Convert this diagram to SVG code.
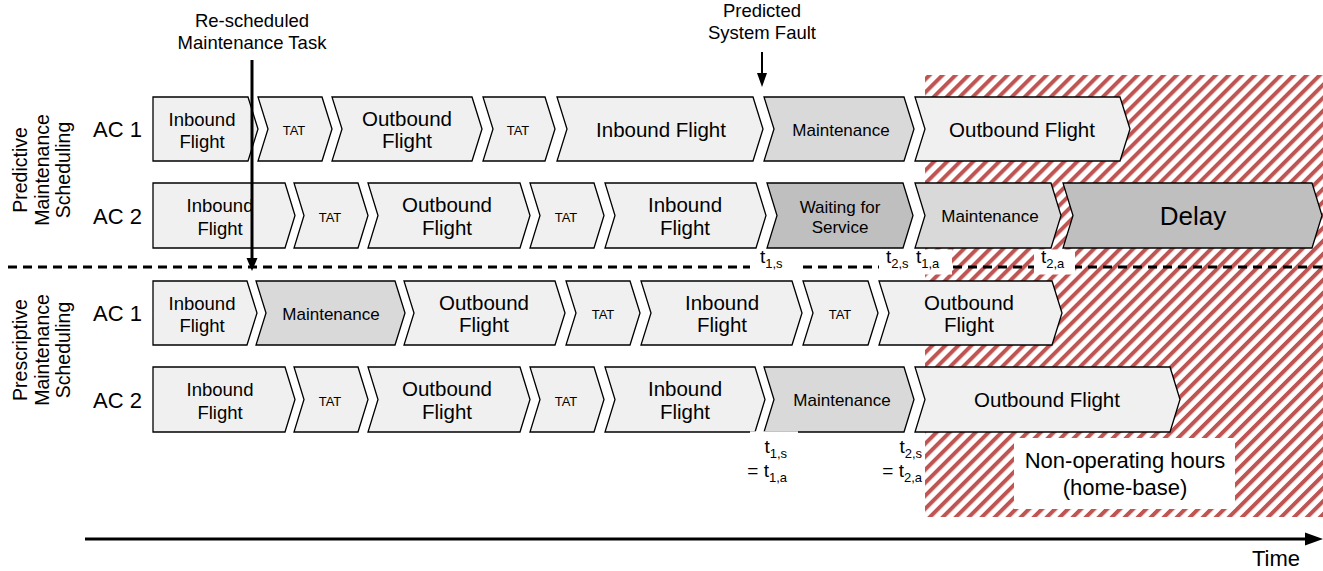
<svg xmlns="http://www.w3.org/2000/svg" width="1323" height="571" viewBox="0 0 1323 571">
<style>
text{font-family:"Liberation Sans",Arial,Helvetica,sans-serif;fill:#000}
.c{text-anchor:middle}
.e{text-anchor:end}
.box{stroke:#000;stroke-width:1.3;stroke-linejoin:miter}
.l{fill:#f0f0f0}
.m{fill:#d9d9d9}
.d{fill:#bfbfbf}
.f18{font-size:18.5px}
.f20{font-size:20.5px}
.tat{font-size:13px}
.mt{font-size:17px}
.big{font-size:26px}
.lab{font-size:18.5px}
.ac{font-size:22px}
.side{font-size:19.5px}
.t{font-size:19px}
.sub{font-size:13px}
.np{font-size:22px}
.wb{fill:#fff}
</style>
<defs>
<pattern id="hatch" patternUnits="userSpaceOnUse" width="9.2" height="9.2" patternTransform="rotate(45)">
<rect x="0" y="0" width="9.2" height="9.2" fill="#fff"/>
<rect x="0" y="0" width="4" height="9.2" fill="#bf5552"/>
</pattern>
</defs>

<g id="non-operating-area">
<rect x="925" y="75" width="398" height="442" fill="url(#hatch)"/>
</g>

<g id="divider">
<line x1="8" y1="267" x2="1323" y2="267" stroke="#000" stroke-width="3" stroke-dasharray="9 6"/>
</g>

<g id="labels-left">
<text class="side c" transform="translate(27,170) rotate(-90)">Predictive</text>
<text class="side c" transform="translate(49,170) rotate(-90)">Maintenance</text>
<text class="side c" transform="translate(70,170) rotate(-90)">Scheduling</text>
<text class="side c" transform="translate(27,350) rotate(-90)">Prescriptive</text>
<text class="side c" transform="translate(49,350) rotate(-90)">Maintenance</text>
<text class="side c" transform="translate(70,350) rotate(-90)">Scheduling</text>
<text class="ac" x="93" y="137">AC 1</text>
<text class="ac" x="93" y="223.5">AC 2</text>
<text class="ac" x="93" y="321">AC 1</text>
<text class="ac" x="93" y="407.5">AC 2</text>
</g>

<!-- Predictive AC1 -->
<g id="p1-inbound1"><path class="box l" d="M153,97 H248 L258,129 L248,161 H153 Z"/><text class="f18 c" x="202" y="125.5">Inbound</text><text class="f18 c" x="202" y="148">Flight</text></g>
<g id="p1-tat1"><path class="box l" d="M258,97 H322 L332,129 L322,161 H258 L268,129 Z"/><text class="tat c" x="294" y="135">TAT</text></g>
<g id="p1-outbound1"><path class="box l" d="M332,97 H472 L482,129 L472,161 H332 L342,129 Z"/><text class="f20 c" x="407" y="125.5">Outbound</text><text class="f20 c" x="407" y="148">Flight</text></g>
<g id="p1-tat2"><path class="box l" d="M483,97 H545 L555,129 L545,161 H483 L493,129 Z"/><text class="tat c" x="518" y="135">TAT</text></g>
<g id="p1-inbound2"><path class="box l" d="M557,97 H753 L763,129 L753,161 H557 L567,129 Z"/><text class="f20 c" x="661" y="136.5">Inbound Flight</text></g>
<g id="p1-maintenance"><path class="box m" d="M764,97 H904 L914,129 L904,161 H764 L774,129 Z"/><text class="mt c" x="841" y="135.5">Maintenance</text></g>
<g id="p1-outbound2"><path class="box l" d="M915,97 H1120 L1130,129 L1120,161 H915 L925,129 Z"/><text class="f20 c" x="1022" y="136.5">Outbound Flight</text></g>

<!-- Predictive AC2 -->
<g id="p2-inbound1"><path class="box l" d="M153,183 H285 L295,215.5 L285,248 H153 Z"/><text class="f18 c" x="220" y="212">Inbound</text><text class="f18 c" x="220" y="234.5">Flight</text></g>
<g id="p2-tat1"><path class="box l" d="M294,183 H358 L368,215.5 L358,248 H294 L304,215.5 Z"/><text class="tat c" x="330" y="221.5">TAT</text></g>
<g id="p2-outbound1"><path class="box l" d="M368,183 H520 L530,215.5 L520,248 H368 L378,215.5 Z"/><text class="f20 c" x="447" y="212">Outbound</text><text class="f20 c" x="447" y="234.5">Flight</text></g>
<g id="p2-tat2"><path class="box l" d="M530,183 H594 L604,215.5 L594,248 H530 L540,215.5 Z"/><text class="tat c" x="566" y="221.5">TAT</text></g>
<g id="p2-inbound2"><path class="box l" d="M605,183 H756 L766,215.5 L756,248 H605 L615,215.5 Z"/><text class="f20 c" x="685" y="212">Inbound</text><text class="f20 c" x="685" y="234.5">Flight</text></g>
<g id="p2-waiting"><path class="box d" d="M767,183 H903 L913,215.5 L903,248 H767 L777,215.5 Z"/><text class="mt c" x="840" y="212.5">Waiting for</text><text class="mt c" x="840" y="233">Service</text></g>
<g id="p2-maintenance"><path class="box m" d="M915,183 H1051 L1061,215.5 L1051,248 H915 L925,215.5 Z"/><text class="mt c" x="990" y="222">Maintenance</text></g>
<g id="p2-delay"><path class="box d" d="M1063,183 H1312 L1322,215.5 L1312,248 H1063 L1073,215.5 Z"/><text class="big c" x="1193" y="225">Delay</text></g>

<!-- Prescriptive AC1 -->
<g id="s1-inbound1"><path class="box l" d="M153,281 H247 L257,313 L247,345 H153 Z"/><text class="f18 c" x="202" y="309.5">Inbound</text><text class="f18 c" x="202" y="332">Flight</text></g>
<g id="s1-maintenance"><path class="box m" d="M256,281 H395 L405,313 L395,345 H256 L266,313 Z"/><text class="mt c" x="331" y="319.5">Maintenance</text></g>
<g id="s1-outbound1"><path class="box l" d="M404,281 H555 L565,313 L555,345 H404 L414,313 Z"/><text class="f20 c" x="484" y="309.5">Outbound</text><text class="f20 c" x="484" y="332">Flight</text></g>
<g id="s1-tat1"><path class="box l" d="M566,281 H630 L640,313 L630,345 H566 L576,313 Z"/><text class="tat c" x="603" y="319">TAT</text></g>
<g id="s1-inbound2"><path class="box l" d="M641,281 H792 L802,313 L792,345 H641 L651,313 Z"/><text class="f20 c" x="722" y="309.5">Inbound</text><text class="f20 c" x="722" y="332">Flight</text></g>
<g id="s1-tat2"><path class="box l" d="M803,281 H868 L878,313 L868,345 H803 L813,313 Z"/><text class="tat c" x="840" y="319">TAT</text></g>
<g id="s1-outbound2"><path class="box l" d="M879,281 H1052 L1062,313 L1052,345 H879 L889,313 Z"/><text class="f20 c" x="969" y="309.5">Outbound</text><text class="f20 c" x="969" y="332">Flight</text></g>

<!-- Prescriptive AC2 -->
<g id="s2-inbound1"><path class="box l" d="M153,367 H285 L295,399.5 L285,432 H153 Z"/><text class="f18 c" x="220" y="396">Inbound</text><text class="f18 c" x="220" y="418.5">Flight</text></g>
<g id="s2-tat1"><path class="box l" d="M294,367 H358 L368,399.5 L358,432 H294 L304,399.5 Z"/><text class="tat c" x="330" y="405.5">TAT</text></g>
<g id="s2-outbound1"><path class="box l" d="M368,367 H520 L530,399.5 L520,432 H368 L378,399.5 Z"/><text class="f20 c" x="447" y="396">Outbound</text><text class="f20 c" x="447" y="418.5">Flight</text></g>
<g id="s2-tat2"><path class="box l" d="M530,367 H594 L604,399.5 L594,432 H530 L540,399.5 Z"/><text class="tat c" x="566" y="405.5">TAT</text></g>
<g id="s2-inbound2"><path class="box l" d="M605,367 H755 L765,399.5 L755,432 H605 L615,399.5 Z"/><text class="f20 c" x="685" y="396">Inbound</text><text class="f20 c" x="685" y="418.5">Flight</text></g>
<g id="s2-maintenance"><path class="box m" d="M764,367 H904 L914,399.5 L904,432 H764 L774,399.5 Z"/><text class="mt c" x="842" y="406">Maintenance</text></g>
<g id="s2-outbound2"><path class="box l" d="M915,367 H1170 L1180,399.5 L1170,432 H915 L925,399.5 Z"/><text class="f20 c" x="1047" y="407">Outbound Flight</text></g>

<!-- time labels -->
<g id="time-labels-predictive">
<rect class="wb" x="750" y="249.5" width="47" height="25"/>
<rect class="wb" x="879" y="249.5" width="73" height="25"/>
<rect class="wb" x="1034" y="249.5" width="41" height="25"/>
<text class="t" x="760" y="263">t<tspan class="sub" dy="5">1,s</tspan></text>
<text class="t" x="886" y="263">t<tspan class="sub" dy="5">2,s</tspan></text>
<text class="t" x="916" y="263">t<tspan class="sub" dy="5">1,a</tspan></text>
<text class="t" x="1041" y="263">t<tspan class="sub" dy="5">2,a</tspan></text>
</g>
<g id="time-labels-prescriptive">
<rect class="wb" x="750" y="431.3" width="48" height="55"/>
<text class="t e" x="787" y="453">t<tspan class="sub" dy="5">1,s</tspan></text>
<text class="t e" x="787" y="477">= t<tspan class="sub" dy="5">1,a</tspan></text>
<text class="t e" x="922" y="453">t<tspan class="sub" dy="5">2,s</tspan></text>
<text class="t e" x="922" y="477">= t<tspan class="sub" dy="5">2,a</tspan></text>
</g>

<g id="non-operating-label">
<rect class="wb" x="1014" y="438" width="221" height="71"/>
<text class="np c" x="1125" y="468">Non-operating hours</text>
<text class="np c" x="1125" y="495">(home-base)</text>
</g>

<g id="event-labels">
<text class="lab c" x="252" y="27">Re-scheduled</text>
<text class="lab c" x="252" y="49">Maintenance Task</text>
<text class="lab c" x="762" y="17">Predicted</text>
<text class="lab c" x="762" y="39">System Fault</text>
<text class="ac" x="1300" y="566" text-anchor="end">Time</text>
</g>

<g id="connectors">
<line x1="252" y1="60" x2="252" y2="259" stroke="#000" stroke-width="3"/>
<polygon points="246.5,258 257.5,258 252,271" fill="#000"/>
<line x1="762" y1="52" x2="762" y2="75" stroke="#000" stroke-width="2"/>
<polygon points="757,73 767,73 762,87" fill="#000"/>
<line x1="85" y1="539" x2="1307" y2="539" stroke="#000" stroke-width="3"/>
<polygon points="1305,532.5 1323,539 1305,545.5" fill="#000"/>
</g>
</svg>
